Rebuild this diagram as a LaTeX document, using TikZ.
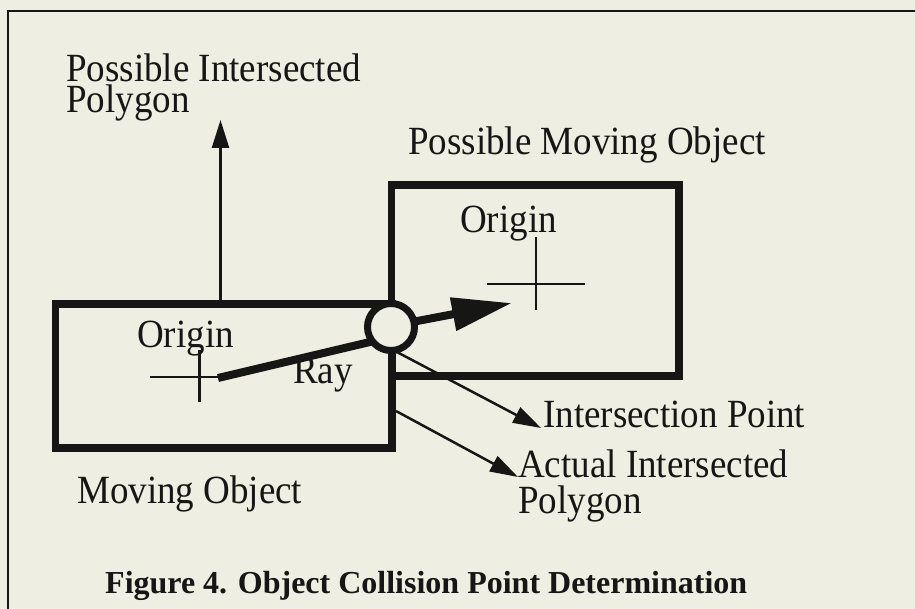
\documentclass[tikz,border=0pt]{standalone}
\usepackage{fontspec}
\setmainfont{Liberation Serif}[FakeStretch=0.925]
\newfontfamily\capfont{Liberation Serif}
\usetikzlibrary{arrows.meta}
\definecolor{paper}{RGB}{238,238,227}
\definecolor{ink}{RGB}{22,22,20}
\begin{document}
\begin{tikzpicture}[x=1pt,y=-1pt,
  lbl/.style={inner sep=0pt, anchor=base west, text=ink, font=\fontsize{40pt}{40pt}\selectfont},
  figcap/.style={inner sep=0pt, anchor=base west, text=ink, font=\capfont\bfseries\fontsize{32pt}{32pt}\selectfont},
  objbox/.style={draw=ink, line width=7.5pt, rectangle, inner sep=0pt},
  thinline/.style={draw=ink, line width=2.5pt},
  crossline/.style={draw=ink, line width=2.5pt},
  thinarrow/.style={thinline, -{Triangle[length=28pt,width=17pt]}},
  raystyle/.style={draw=ink, line width=8pt},
  rayarrow/.style={raystyle, -{Triangle[length=60pt,width=32pt]}}
]
\fill[paper] (0,0) rectangle (915,609);
\useasboundingbox (0,0) rectangle (915,609);
% outer frame (right and bottom edges cut off)
\draw[ink, line width=2.5pt] (8,609) -- (8,11) -- (915,11);

% boxes
\node[objbox, minimum width=336.5pt, minimum height=144pt] (movbox) at (223.75,376) {};
\node[objbox, minimum width=287.5pt, minimum height=191pt] (posbox) at (535.25,280.5) {};

% crosses
\coordinate (c1w) at (150,377);
\coordinate (c1e) at (218,377);
\coordinate (c1n) at (199.5,350);
\coordinate (c1s) at (199.5,402);
\draw[crossline] (c1w) -- (c1e);
\draw[crossline] (c1n) -- (c1s);
\coordinate (c2w) at (487,284);
\coordinate (c2e) at (585,284);
\coordinate (c2n) at (536,237);
\coordinate (c2s) at (536,310);
\draw[crossline] (c2w) -- (c2e);
\draw[crossline] (c2n) -- (c2s);

% thin arrows
\coordinate (upstart) at (220.5,300);
\coordinate (uptip) at (220.5,120);
\draw[thinarrow] (upstart) -- (uptip);
\coordinate (ipstart) at (395,351);
\coordinate (iptip) at (541,428);
\draw[thinarrow] (ipstart) -- (iptip);
\coordinate (aipstart) at (396,411);
\coordinate (aiptip) at (518,477);
\draw[thinarrow] (aipstart) -- (aiptip);

% ray
\coordinate (raystart) at (218,378);
\coordinate (rayaim) at (391,337);
\coordinate (raytip) at (512,303);
\draw[raystyle] (raystart) -- (rayaim);
\coordinate (raymid) at (391,326);
\draw[rayarrow] (raymid) -- (raytip);

% intersection point circle
\node[circle, draw=ink, fill=paper, line width=7pt, minimum size=47pt, inner sep=0pt] (ipt) at (391,327) {};

% labels
\node[lbl] (pip1) at (66,82) {Possible Intersected};
\node[lbl] (pip2) at (66,113) {Polygon};
\node[lbl] (pmo) at (408,155) {Possible Moving Object};
\node[lbl] (org2) at (460,233) {Origin};
\node[lbl] (org1) at (137,348) {Origin};
\node[lbl] (ray) at (293,383) {Ray};
\node[lbl] (ip) at (543,427) {Intersection Point};
\node[lbl] (aip1) at (518,477) {Actual Intersected};
\node[lbl] (aip2) at (518,513) {Polygon};
\node[lbl] (mo) at (77,503) {Moving Object};
\node[figcap] (caption) at (105,593) {Figure 4. Object Collision Point Determination};
\end{tikzpicture}
\end{document}
